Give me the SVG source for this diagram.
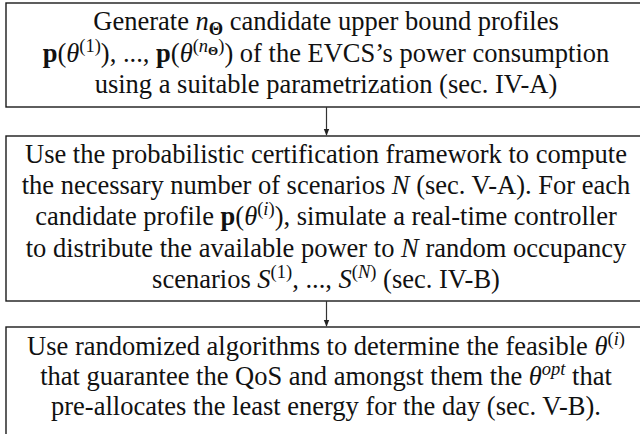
<svg xmlns="http://www.w3.org/2000/svg" width="640" height="434" viewBox="0 0 640 434">
  <defs>
    <marker id="arrow" viewBox="0 0 10 10" refX="9" refY="5" markerWidth="6" markerHeight="6" orient="auto">
      <path d="M0,1 L10,5 L0,9 Z" fill="#222"/>
    </marker>
    <style>
      .box { fill: #fff; stroke: #1a1a1a; stroke-width: 1.4; }
      .t { font-family: "Liberation Serif", Tinos, "DejaVu Serif", serif; font-size: 26.5px; fill: #111; text-anchor: middle; }
      .it { font-style: italic; }
      .bf { font-weight: bold; }
      .sup { font-size: 18.5px; }
      .link { stroke: #333; stroke-width: 1.2; fill: none; }
    </style>
  </defs>
  <rect width="640" height="434" fill="#fff"/>

  <!-- step 1: candidate profiles -->
  <g id="step-generate">
    <rect class="box" x="6" y="3" width="641" height="104"/>
    <text class="t" x="326" y="30">Generate <tspan class="it">n</tspan><tspan class="bf sup" dy="5">Θ</tspan><tspan dy="-5"> candidate upper bound profiles</tspan></text>
    <text class="t" x="326" y="62"><tspan class="bf">p</tspan>(<tspan class="it">θ</tspan><tspan class="sup" dy="-10">(1)</tspan><tspan dy="10">), ..., </tspan><tspan class="bf">p</tspan>(<tspan class="it">θ</tspan><tspan class="sup" dy="-10">(</tspan><tspan class="sup it">n</tspan><tspan class="bf" font-size="13" dy="3">Θ</tspan><tspan class="sup" dy="-3">)</tspan><tspan dy="10">) of the EVCS’s power consumption</tspan></text>
    <text class="t" x="326" y="93">using a suitable parametrization (sec. IV-A)</text>
  </g>

  <!-- step 2: scenario simulation -->
  <g id="step-simulate">
    <rect class="box" x="6" y="136" width="641" height="165"/>
    <text class="t" x="326" y="163">Use the probabilistic certification framework to compute</text>
    <text class="t" x="326" y="194">the necessary number of scenarios <tspan class="it">N</tspan> (sec. V-A). For each</text>
    <text class="t" x="326" y="225">candidate profile <tspan class="bf">p</tspan>(<tspan class="it">θ</tspan><tspan class="sup" dy="-10">(</tspan><tspan class="sup it">i</tspan><tspan class="sup">)</tspan><tspan dy="10">), simulate a real-time controller</tspan></text>
    <text class="t" x="326" y="257">to distribute the available power to <tspan class="it">N</tspan> random occupancy</text>
    <text class="t" x="326" y="288">scenarios <tspan class="it">S</tspan><tspan class="sup" dy="-10">(1)</tspan><tspan dy="10">, ..., </tspan><tspan class="it">S</tspan><tspan class="sup" dy="-10">(</tspan><tspan class="sup it">N</tspan><tspan class="sup">)</tspan><tspan dy="10"> (sec. IV-B)</tspan></text>
  </g>

  <!-- step 3: randomized selection -->
  <g id="step-select">
    <rect class="box" x="6" y="327" width="641" height="120"/>
    <text class="t" x="326" y="355">Use randomized algorithms to determine the feasible <tspan class="it">θ</tspan><tspan class="sup" dy="-10">(</tspan><tspan class="sup it">i</tspan><tspan class="sup">)</tspan></text>
    <text class="t" x="326" y="385">that guarantee the QoS and amongst them the <tspan class="it">θ</tspan><tspan class="sup it" dy="-10">opt</tspan><tspan dy="10"> that</tspan></text>
    <text class="t" x="326" y="415">pre-allocates the least energy for the day (sec. V-B).</text>
  </g>

  <!-- connectors -->
  <g id="connectors">
    <line class="link" x1="326.5" y1="107" x2="326.5" y2="135" marker-end="url(#arrow)"/>
    <line class="link" x1="326.5" y1="301" x2="326.5" y2="326" marker-end="url(#arrow)"/>
  </g>
</svg>
